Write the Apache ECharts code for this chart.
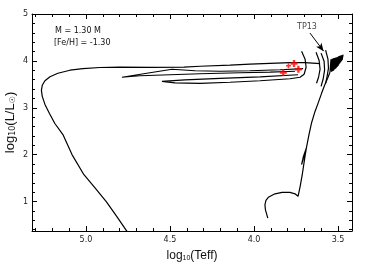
<!DOCTYPE html>
<html><head><meta charset="utf-8">
<script src="https://cdn.jsdelivr.net/npm/echarts@6/dist/echarts.min.js"></script>
<style>html,body{margin:0;padding:0;background:#fff}#c{width:368px;height:270px}</style>
</head><body><div id="c"></div>
<script>
// ---- data: [log10 Teff, log10 L/Lsun] ----
var trackMain = [[3.918,0.645],[3.932,0.822],[3.935,0.929],[3.929,1.026],[3.915,1.090],[3.875,1.165],[3.833,1.197],[3.786,1.197],[3.756,1.165],[3.738,1.112],[3.726,1.315],[3.714,1.551],[3.705,1.765],[3.696,1.979],[3.688,2.150],[3.717,1.787],[3.707,1.95],[3.688,2.15],[3.673,2.429],[3.657,2.687],[3.637,2.922],[3.617,3.115],[3.598,3.308],[3.580,3.479],[3.562,3.629],[3.548,3.758]];
var agbPulses = [[3.548,3.758],[3.542,4.036],[3.539,3.770],[3.535,4.047],[3.533,3.781],[3.527,4.058],[3.527,3.792],[3.521,4.063],[3.521,3.815],[3.515,4.069],[3.515,3.835],[3.509,4.074],[3.510,3.855],[3.503,4.079],[3.504,3.876],[3.498,4.090],[3.499,3.900],[3.494,4.101],[3.494,3.929],[3.489,4.106],[3.490,3.950],[3.485,4.111],[3.485,3.972],[3.480,4.117],[3.481,3.995],[3.476,4.122],[3.476,4.015],[3.470,4.133]];
var pulseArc1 = [[3.631,4.186],[3.613,4.015],[3.607,3.822],[3.616,3.651],[3.628,3.522]];
var pulseArc2 = [[3.601,4.165],[3.583,3.994],[3.580,3.801],[3.589,3.608],[3.601,3.458]];
var pulseArc3 = [[3.574,4.229],[3.560,4.036],[3.557,3.844],[3.565,3.672],[3.574,3.522]];
var loopA = [[3.708,3.833],[3.845,3.811],[4.024,3.790],[4.202,3.779],[4.351,3.790],[4.488,3.822],[4.619,3.747],[4.786,3.651],[4.679,3.683],[4.500,3.704],[4.321,3.726],[4.083,3.747],[3.905,3.762],[3.756,3.779]];
var loopB = [[3.738,3.704],[3.964,3.661],[4.202,3.629],[4.411,3.597],[4.548,3.565],[4.470,3.533],[4.321,3.522],[4.143,3.544],[3.964,3.576],[3.786,3.619],[3.726,3.651],[3.702,3.715],[3.690,3.865],[3.696,4.036],[3.717,4.208]];
var postAgb = [[3.607,3.940],[3.696,3.961],[3.786,3.961],[3.905,3.946],[4.024,3.929],[4.143,3.908],[4.321,3.886],[4.417,3.869],[4.619,3.861],[4.798,3.865],[4.917,3.859],[5.018,3.837],[5.095,3.801],[5.167,3.736],[5.214,3.661],[5.244,3.576],[5.260,3.479],[5.265,3.372],[5.260,3.244],[5.244,3.072],[5.217,2.879],[5.185,2.665],[5.137,2.429],[5.083,2.001],[5.012,1.573],[4.946,1.294],[4.878,0.994],[4.815,0.673],[4.758,0.373],[4.738,0.265]];
var crossesBig = [[3.826,3.751],[3.762,3.944],[3.736,3.822]];
var crossesSmall = [[3.795,3.897]];
var tpArrow = [[3.667,4.594],[3.586,4.208]];
var tpLabel = [[3.685,4.722]];
var xMajorTicks = [3.5,4.0,4.5,5.0];
var xMinorTicks = [3.5,3.6,3.7,3.8,3.9,4.0,4.1,4.2,4.3,4.4,4.5,4.6,4.7,4.8,4.9,5.0,5.1,5.2,5.3];
var yMajorTicks = [1,2,3,4,5];
var yMinorTicks = [0.4,0.6,0.8,1.0,1.2,1.4,1.6,1.8,2.0,2.2,2.4,2.6,2.8,3.0,3.2,3.4,3.6,3.8,4.0,4.2,4.4,4.6,4.8,5.0];
var textMass = 'M = 1.30 M';
var textFeH = '[Fe/H] = -1.30';

var XMIN = 3.417, XMAX = 5.321, YMIN = 0.372, YMAX = 5.0;
var FONT = 'DejaVu Sans';
function xAx(pos, ticks, len, showLabel, showLine, name) {
  var a = {type:'value', position:pos, inverse:true, min:XMIN, max:XMAX,
    axisLine:{show:showLine, onZero:false, lineStyle:{color:'#000', width:1}},
    axisTick:{show:true, inside:true, length:len, customValues:ticks, lineStyle:{color:'#000', width:1}},
    axisLabel:{show:showLabel, customValues:ticks, margin:5, fontSize:8, fontFamily:FONT, color:'#222',
      formatter:function(v){return v.toFixed(1);}},
    splitLine:{show:false}};
  if (name) {
    a.name = '{n|log}{s|10}{n|(Teff)}'; a.nameLocation = 'middle'; a.nameGap = 18; a.nameMoveOverlap = false;
    a.nameTextStyle = {rich:{n:{fontSize:12, fontFamily:'Liberation Sans', color:'#111'},
      s:{fontSize:7, fontFamily:'Liberation Sans', color:'#111', verticalAlign:'bottom', padding:[6,0,0,0]}}};
  }
  return a;
}
function yAx(pos, ticks, len, showLabel, showLine, name) {
  var a = {type:'value', position:pos, min:YMIN, max:YMAX,
    axisLine:{show:showLine, onZero:false, lineStyle:{color:'#000', width:1}},
    axisTick:{show:true, inside:true, length:len, customValues:ticks, lineStyle:{color:'#000', width:1}},
    axisLabel:{show:showLabel, customValues:ticks, margin:4, fontSize:8, fontFamily:FONT, color:'#222',
      formatter:function(v){return String(v);}},
    splitLine:{show:false}};
  if (name) {
    a.name = '{n|log}{s|10}{n|(L/L}{s|☉}{n|)}'; a.nameLocation = 'middle'; a.nameGap = 15; a.nameRotate = 90;
    a.nameMoveOverlap = false;
    a.nameTextStyle = {rich:{n:{fontSize:13, fontFamily:'Liberation Sans', color:'#111'},
      s:{fontSize:8, fontFamily:'DejaVu Sans', color:'#111', verticalAlign:'bottom', padding:[6,0,0,0]}}};
  }
  return a;
}
var lineStyle = {color:'#000', width:1.2};
function lineSeries(data) {
  return {type:'line', data:data, xAxisIndex:0, yAxisIndex:0, showSymbol:false, symbol:'none',
    lineStyle:lineStyle, clip:true, silent:true, animation:false, z:3};
}
var plus = 'path://M2,0H4V2H6V4H4V6H2V4H0V2H2Z';
var chart = echarts.init(document.getElementById('c'), null, {renderer:'canvas'});
chart.setOption({
  animation:false,
  grid:{left:32, right:16, top:14, bottom:39, containLabel:false, outerBoundsMode:'none'},
  xAxis:[xAx('bottom', xMajorTicks, 5, true, true, true), xAx('bottom', xMinorTicks, 3, false, false),
         xAx('top', xMajorTicks, 5, false, true), xAx('top', xMinorTicks, 3, false, false)],
  yAxis:[yAx('left', yMajorTicks, 5, true, true, true), yAx('left', yMinorTicks, 3, false, false),
         yAx('right', yMajorTicks, 5, false, true), yAx('right', yMinorTicks, 3, false, false)],
  series:[
    lineSeries(trackMain), lineSeries(agbPulses), lineSeries(pulseArc1), lineSeries(pulseArc2),
    lineSeries(pulseArc3), lineSeries(loopA), lineSeries(loopB), lineSeries(postAgb),
    {type:'scatter', data:crossesBig, symbol:plus, symbolSize:7, itemStyle:{color:'#ff0000'}, z:5, silent:true},
    {type:'scatter', data:crossesSmall, symbol:plus, symbolSize:5, itemStyle:{color:'#ff0000'}, z:5, silent:true},
    {type:'scatter', data:tpLabel, symbolSize:0.1, silent:true,
      label:{show:true, position:'inside', formatter:'TP13', fontSize:8, fontFamily:FONT, color:'#111'},
      markLine:{silent:true, animation:false, symbol:['none','arrow'], symbolSize:[5,8],
        lineStyle:{color:'#000', width:1, type:'solid'}, label:{show:false},
        data:[[{coord:tpArrow[0]},{coord:tpArrow[1]}]]}}
  ],
  graphic:[
    {type:'text', left:55, top:27, style:{text:textMass, font:'8px "DejaVu Sans"', fill:'#111'}},
    {type:'text', left:54, top:39, style:{text:textFeH, font:'8px "DejaVu Sans"', fill:'#111'}}
  ]
});
</script></body></html>
